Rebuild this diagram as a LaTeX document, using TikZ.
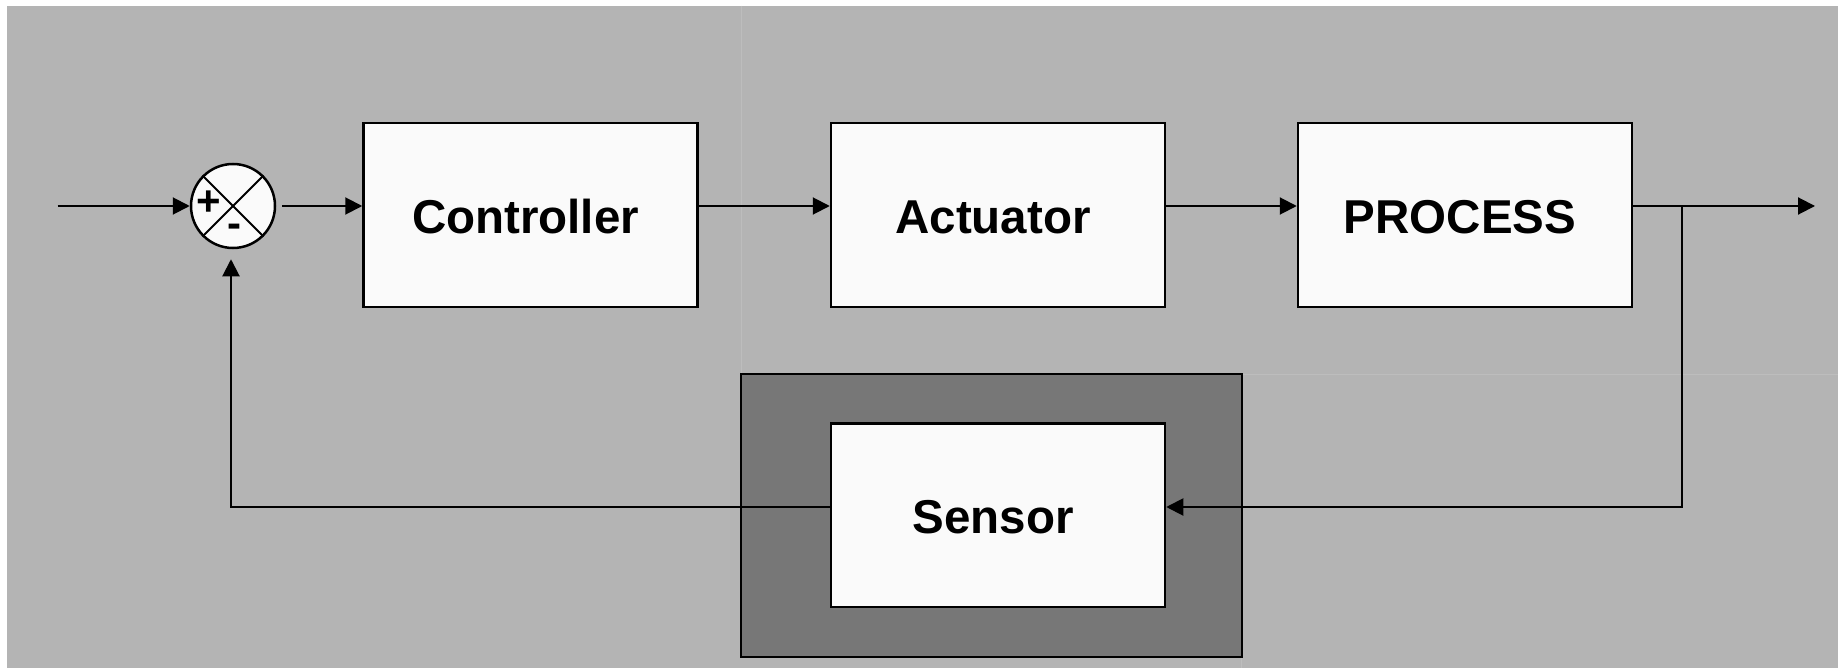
\documentclass[tikz,border=0pt]{standalone}
\usepackage{fontspec}
\setmainfont{Liberation Sans}
\usetikzlibrary{arrows.meta}
\definecolor{bggrey}{HTML}{B4B4B4}
\definecolor{darkgrey}{HTML}{777777}
\definecolor{boxfill}{HTML}{FAFAFA}
\definecolor{seam}{HTML}{BDBDBD}
\newcommand{\blocklabel}[1]{\raisebox{0pt}[\dimexpr\height+4pt\relax]{#1}\kern10pt}
\tikzset{
  blockbox/.style={draw=black, line width=2.5pt, fill=boxfill, minimum width=334pt, minimum height=184pt, inner sep=0pt, font=\fontsize{47.5}{57}\selectfont\bfseries},
  sumnode/.style={circle, draw=black, line width=2.5pt, fill=boxfill, minimum size=84pt, inner sep=0pt},
  signtext/.style={inner sep=0pt, font=\fontsize{42}{50}\selectfont\bfseries},
  conn/.style={line width=2pt, draw=black},
  arr/.style={conn, -{Triangle[length=17pt,width=17pt]}},
  seamline/.style={draw=seam, line width=1pt},
  framebox/.style={draw=black, line width=2pt, fill=darkgrey, minimum width=501pt, minimum height=283.5pt, inner sep=0pt}
}
\begin{document}
\begin{tikzpicture}[x=1pt,y=-1pt]
\useasboundingbox (0,0) rectangle (1838,668);
\fill[white] (0,0) rectangle (1838,668);
\fill[bggrey] (7,6) rectangle (1838,668);
\draw[seamline] (741,6) -- (741,373);
\draw[seamline] (1242,374) -- (1838,374);
\draw[seamline] (1241,657) -- (1241,668);
% sensor frame
\node[framebox] (frame) at (991.5,515.25) {};
% blocks
\node[blockbox] (ctrl) at (530.5,215) {\blocklabel{Controller}};
\node[blockbox] (act) at (998,215) {\blocklabel{Actuator}};
\node[blockbox] (proc) at (1465,215) {\blocklabel{PROCESS}};
\node[blockbox, minimum height=183.5pt] (sens) at (998,515.25) {\blocklabel{Sensor}};
% summing junction
\node[sumnode] (sum) at (233,206) {};
\draw[line width=2pt] (sum.north west) -- (sum.south east);
\draw[line width=2pt] (sum.north east) -- (sum.south west);
\node[signtext] (plus) at (209,203) {+};
\node[signtext] (minus) at (234,231) {-};
% coordinates
\coordinate (in) at (57.5,206);
\coordinate (out) at (1815,206);
\coordinate (br) at (1682,206);
\coordinate (brdown) at (1682,507);
\coordinate (fbc) at (231,507);
% connectors
\draw[arr] (in) -- (sum.west);
\draw[arr, shorten <=6pt] (sum.east) -- (ctrl.west |- sum.east);
\draw[arr] (ctrl.east |- sum.east) -- (act.west |- sum.east);
\draw[arr] (act.east |- sum.east) -- (proc.west |- sum.east);
\draw[arr] (proc.east |- sum.east) -- (out);
\draw[arr] (br) -- (brdown) -- (sens.east |- brdown);
\draw[arr, shorten >=10pt] (sens.west |- fbc) -- (fbc) -- (fbc |- sum.south);
\end{tikzpicture}
\end{document}
